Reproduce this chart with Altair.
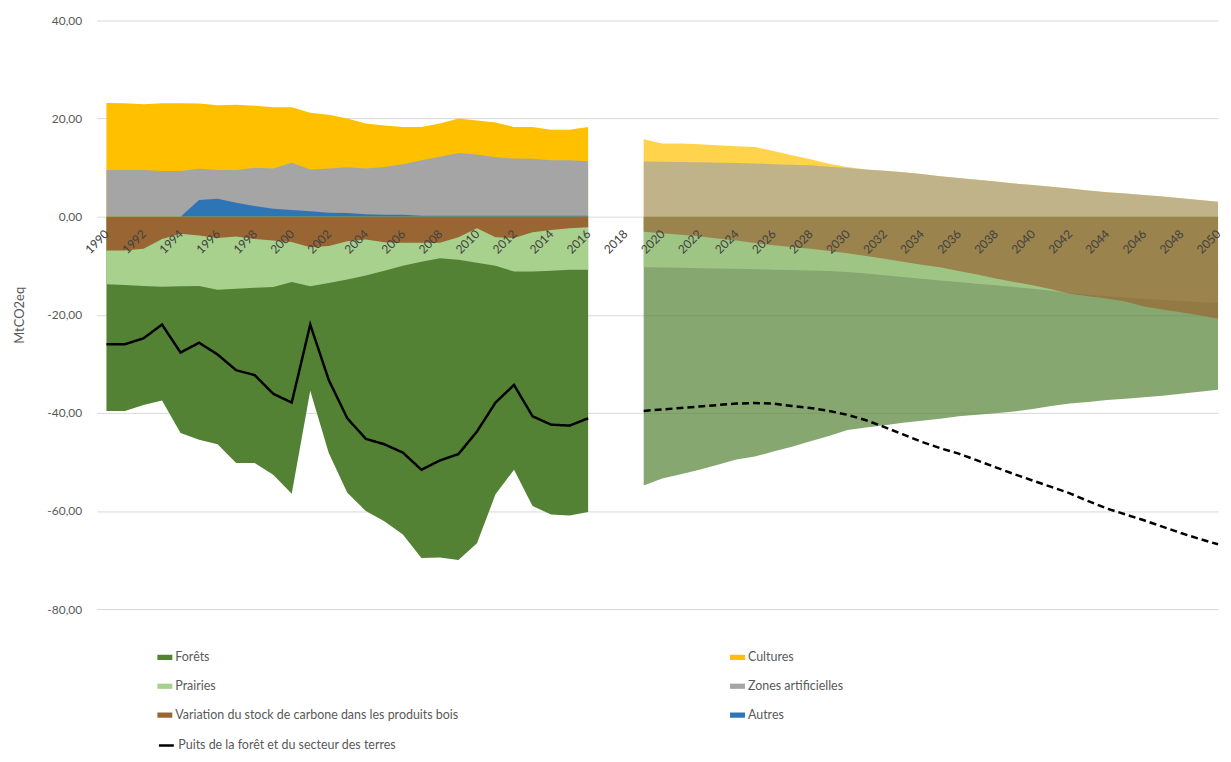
import altair as alt
import pandas as pd

# ---------------- data ----------------
hist_years = list(range(1990, 2017))
proj_years = list(range(2019, 2051))

cultures_hist = [23.2, 23.15, 22.9, 23.15, 23.15, 23.1, 22.7, 22.8, 22.6, 22.3, 22.3, 21.2, 20.8, 20.0,
                 19.0, 18.6, 18.3, 18.3, 19.0, 20.0, 19.6, 19.2, 18.3, 18.3, 17.7, 17.7, 18.3]
zones_hist = [9.5, 9.5, 9.5, 9.3, 9.3, 9.75, 9.5, 9.5, 10.0, 9.8, 11.0, 9.6, 9.8, 10.1,
              9.8, 10.15, 10.7, 11.5, 12.2, 13.0, 12.7, 12.1, 11.85, 11.8, 11.5, 11.5, 11.3]
autres_hist = [0.0, 0.0, 0.0, 0.0, 0.0, 3.4, 3.65, 2.85, 2.2, 1.6, 1.35, 1.1, 0.8, 0.75,
               0.5, 0.4, 0.4, 0.2, 0.2, 0.2, 0.2, 0.2, 0.2, 0.2, 0.2, 0.2, 0.2]
variation_hist = [-6.9, -6.9, -6.55, -4.55, -3.5, -3.85, -4.35, -4.05, -4.55, -4.85, -5.15, -6.25, -6.0, -5.0,
                  -4.65, -5.2, -5.3, -5.3, -5.3, -4.2, -2.35, -4.2, -4.35, -3.2, -2.7, -2.35, -2.15]
prairies_hist = [-13.8, -13.95, -14.15, -14.3, -14.2, -14.15, -14.9, -14.7, -14.5, -14.35, -13.3, -14.2, -13.5, -12.8,
                 -12.0, -11.0, -10.0, -9.2, -8.5, -8.8, -9.4, -10.0, -11.2, -11.2, -11.0, -10.8, -10.8]
forets_hist = [-39.6, -39.6, -38.4, -37.5, -44.1, -45.5, -46.4, -50.2, -50.2, -52.6, -56.5, -35.5, -48.2, -56.3,
               -60.0, -62.1, -64.8, -69.6, -69.5, -70.0, -66.6, -56.6, -51.6, -59.0, -60.7, -60.9, -60.2]
puits_hist = [-26.0, -26.0, -24.8, -22.0, -27.7, -25.7, -28.1, -31.3, -32.3, -36.1, -37.9, -22.0, -33.3, -41.1,
              -45.3, -46.4, -48.1, -51.6, -49.7, -48.4, -43.8, -37.9, -34.3, -40.7, -42.4, -42.6, -41.1]

cultures_proj = [15.8, 14.9, 14.9, 14.75, 14.55, 14.35, 14.2, 13.4, 12.5, 11.7, 10.8, 10.15, 9.6, 9.35, 9.05, 8.7,
                 8.25, 7.9, 7.55, 7.15, 6.75, 6.45, 6.1, 5.75, 5.35, 5.0, 4.75, 4.4, 4.1, 3.75, 3.4, 3.05]
zones_proj = [11.25, 11.2, 11.15, 11.1, 11.0, 10.95, 10.85, 10.7, 10.6, 10.5, 10.2, 9.9, 9.6, 9.35, 9.05, 8.7,
              8.25, 7.9, 7.55, 7.15, 6.75, 6.45, 6.1, 5.75, 5.35, 5.0, 4.75, 4.4, 4.1, 3.75, 3.4, 3.05]
variation_proj = [-3.05, -3.38, -3.7, -4.0, -4.45, -4.87, -5.35, -5.85, -6.2, -6.55, -7.0, -7.45, -8.0, -8.6, -9.2, -9.8,
                  -10.3, -11.1, -11.8, -12.6, -13.3, -14.0, -14.8, -15.7, -16.2, -16.7, -17.3, -18.3, -18.9, -19.5, -20.1, -20.8]
prairies_proj = [-10.3, -10.35, -10.4, -10.5, -10.55, -10.6, -10.7, -10.8, -10.85, -10.95, -11.1, -11.3, -11.6, -11.95, -12.3, -12.65,
                 -13.0, -13.3, -13.65, -14.0, -14.35, -14.7, -15.1, -15.6, -15.9, -16.2, -16.5, -16.8, -17.0, -17.2, -17.4, -17.6]
forets_proj = [-54.8, -53.4, -52.5, -51.6, -50.6, -49.5, -48.9, -47.9, -46.9, -45.8, -44.7, -43.5, -43.0, -42.5, -42.0, -41.6,
               -41.2, -40.7, -40.4, -40.1, -39.7, -39.2, -38.6, -38.1, -37.8, -37.4, -37.1, -36.8, -36.5, -36.1, -35.7, -35.3]
puits_proj = [-39.6, -39.3, -39.0, -38.7, -38.4, -38.1, -38.0, -38.1, -38.6, -39.0, -39.6, -40.4, -41.5, -42.9, -44.4, -45.9,
              -47.2, -48.3, -49.7, -51.1, -52.5, -53.8, -55.1, -56.4, -58.0, -59.5, -60.7, -61.9, -63.2, -64.5, -65.7, -66.8]

# legend order (filled column by column)
series_names = ["Forêts", "Prairies", "Variation du stock de carbone dans les produits  bois",
                "Cultures", "Zones artificielles", "Autres"]
series_colors = ["#548235", "#A9D18E", "#996633", "#FFC000", "#A5A5A5", "#2E75B6"]
line_name = "Puits de la forêt et du secteur des terres"

tick_years = list(range(1990, 2051, 2))
y_ticks = [-80, -60, -40, -20, 0, 20, 40]

# ---------------- tables ----------------
hist_series = {
    "Cultures": cultures_hist, "Zones artificielles": zones_hist, "Autres": autres_hist,
    "Forêts": forets_hist, "Prairies": prairies_hist,
    "Variation du stock de carbone dans les produits  bois": variation_hist,
}
proj_series = {
    "Cultures": cultures_proj, "Zones artificielles": zones_proj,
    "Forêts": forets_proj, "Prairies": prairies_proj,
    "Variation du stock de carbone dans les produits  bois": variation_proj,
}
rows = []
for name, vals in hist_series.items():
    for yr, v in zip(hist_years, vals):
        rows.append({"year": yr, "series": name, "value": v, "period": "hist"})
for name, vals in proj_series.items():
    for yr, v in zip(proj_years, vals):
        rows.append({"year": yr, "series": name, "value": v, "period": "proj"})
area_df = pd.DataFrame(rows)

line_rows = [{"year": yr, "value": v, "period": "hist", "label": line_name} for yr, v in zip(hist_years, puits_hist)]
line_rows += [{"year": yr, "value": v, "period": "proj", "label": line_name} for yr, v in zip(proj_years, puits_proj)]
line_df = pd.DataFrame(line_rows)

# ---------------- layout ----------------
W = 1126
H = 591
zero_offset = -(H - H * 40 / 120)
FONT = "Lato"
TXT = "#595959"

x_enc = alt.X(
    "year:Q",
    scale=alt.Scale(domain=[1989.47, 2050], nice=False, zero=False),
    axis=alt.Axis(values=tick_years, format="d", labelAngle=-45, labelAlign="right",
                  labelBaseline="middle", labelPadding=15, ticks=False, tickSize=0,
                  domain=False, grid=False, offset=zero_offset, zindex=1,
                  labelFontSize=12, labelColor="#404040", labelOverlap=False,
                  labelFlush=False, labelBound=False),
    title=None,
)
y_enc = alt.Y(
    "value:Q", stack=None,
    scale=alt.Scale(domain=[-80, 40], nice=False, zero=False),
    axis=alt.Axis(values=y_ticks,
                  labelExpr="(datum.value < 0 ? '-' : '') + replace(format(abs(datum.value), '.2f'), '.', ',')",
                  grid=True, gridColor="#D9D9D9", gridWidth=1, domain=False, ticks=False,
                  labelPadding=15, titlePadding=20, labelFontSize=12, labelColor=TXT,
                  titleFontSize=13, titleFontWeight="normal", titleColor=TXT),
    title="MtCO2eq",
)

area_legend = alt.Legend(
    orient="none", legendX=61, legendY=632, columns=2, columnPadding=269, rowPadding=15,
    symbolType="M-1,-0.35L1,-0.35L1,0.35L-1,0.35Z", symbolSize=225, symbolStrokeWidth=0,
    labelFontSize=12.5, labelColor=TXT, labelFont=FONT, labelOffset=3, labelLimit=500, title=None,
)
color_enc = alt.Color("series:N", scale=alt.Scale(domain=series_names, range=series_colors),
                      legend=area_legend)
opacity_enc = alt.Opacity("period:N", scale=alt.Scale(domain=["hist", "proj"], range=[1.0, 0.7]), legend=None)

draw_order = ["Cultures", "Zones artificielles", "Autres", "Forêts", "Prairies",
              "Variation du stock de carbone dans les produits  bois"]
layers = []
for s in draw_order:
    layers.append(
        alt.Chart(area_df)
        .transform_filter(alt.datum.series == s)
        .mark_area(interpolate="linear")
        .encode(x=x_enc, y=y_enc, color=color_enc, opacity=opacity_enc, detail="period:N")
    )

line_layer = alt.Chart(line_df).mark_line(strokeWidth=2.5).encode(
    x=x_enc, y=y_enc,
    stroke=alt.Stroke("label:N", scale=alt.Scale(domain=[line_name], range=["#000000"]),
                      legend=alt.Legend(orient="none", legendX=61, legendY=719, symbolType="stroke",
                                        symbolStrokeWidth=2.5, symbolSize=225, labelFontSize=12.5,
                                        labelColor=TXT, labelFont=FONT, labelOffset=3, labelLimit=500,
                                        title=None)),
    strokeDash=alt.StrokeDash("period:N", scale=alt.Scale(domain=["hist", "proj"], range=[[1, 0], [7, 4]]),
                              legend=None),
)
layers.append(line_layer)

chart = (
    alt.layer(*layers)
    .properties(width=W, height=H, padding={"left": 5, "top": 5, "right": 0, "bottom": 0})
    .configure(font=FONT)
    .configure_view(strokeWidth=0)
)

chart.save("out.html", embed_options={"renderer": "svg", "actions": False})
